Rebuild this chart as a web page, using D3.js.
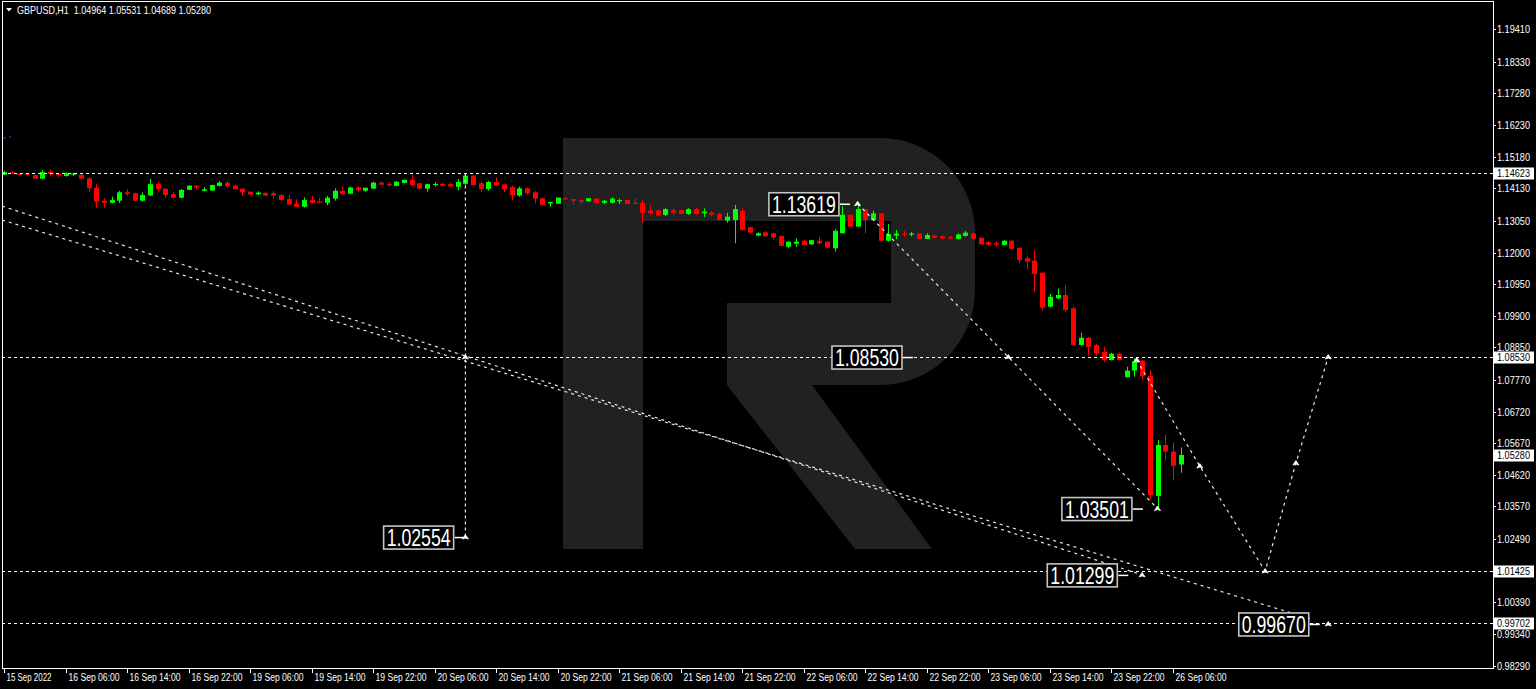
<!DOCTYPE html>
<html><head><meta charset="utf-8">
<script src="https://cdn.jsdelivr.net/npm/d3@7/dist/d3.min.js"></script>
<style>html,body{margin:0;padding:0;background:#000;overflow:hidden}svg{display:block}</style>
</head><body><svg id="c" width="1536" height="689"></svg>
<script>
// ---------- DATA ----------
const symbolTitle = "GBPUSD,H1  1.04964 1.05531 1.04689 1.05280";
const timeTickLabels = ["15 Sep 2022","16 Sep 06:00","16 Sep 14:00","16 Sep 22:00","19 Sep 06:00","19 Sep 14:00","19 Sep 22:00","20 Sep 06:00","20 Sep 14:00","20 Sep 22:00","21 Sep 06:00","21 Sep 14:00","21 Sep 22:00","22 Sep 06:00","22 Sep 14:00","22 Sep 22:00","23 Sep 06:00","23 Sep 14:00","23 Sep 22:00","26 Sep 06:00"];
const timeTickBars = [0,8,16,24,32,40,48,56,64,72,80,88,96,104,112,120,128,136,144,152];
const priceTicks = [1.19410,1.18330,1.17280,1.16230,1.15180,1.14130,1.13050,1.12000,1.10950,1.09900,1.08850,1.07770,1.06720,1.05670,1.04620,1.03570,1.02490,1.00390,0.99340,0.98290];

const open = [1.1458,1.1467,1.1461,1.1461,1.1457,1.1445,1.1468,1.1461,1.1454,1.1460,1.1458,1.1446,1.1415,1.1372,1.1365,1.1372,1.1400,1.1397,1.1372,1.1389,
1.1427,1.1412,1.1394,1.1382,1.1408,1.1422,1.1405,1.1406,1.1421,1.1432,1.1422,1.1412,1.1402,1.1393,1.1398,1.1397,1.1391,1.1377,1.1362,1.1352,
1.1375,1.1369,1.1365,1.1379,1.1405,1.1395,1.1416,1.1405,1.1412,1.1432,1.1427,1.1421,1.1431,1.1441,1.1430,1.1412,1.1425,1.1428,1.1427,1.1418,
1.1428,1.1455,1.1430,1.1411,1.1434,1.1426,1.1417,1.1389,1.1413,1.1400,1.1380,1.1363,1.1362,1.1380,1.1377,1.1374,1.1370,1.1379,1.1365,1.1365,
1.1370,1.1374,1.1365,1.1365,1.1339,1.1339,1.1325,1.1341,1.1341,1.1328,1.1344,1.1330,1.1333,1.1328,1.1306,1.1308,1.1339,1.1284,1.1256,1.1267,
1.1264,1.1255,1.1219,1.1229,1.1239,1.1227,1.1239,1.1236,1.1214,1.1264,1.1325,1.1286,1.1344,1.1308,1.1330,1.1239,1.1256,1.1263,1.1259,1.1263,
1.1245,1.1256,1.1254,1.1252,1.1245,1.1255,1.1264,1.1249,1.1235,1.1232,1.1225,1.1239,1.1216,1.1181,1.1173,1.1133,1.1020,1.1048,1.1059,1.1015,
1.0893,1.0917,1.0893,1.0870,1.0843,1.0864,1.0786,1.0808,1.0841,1.0790,1.0392,1.0561,1.0539,1.04964];
const high = [1.1471,1.1470,1.1463,1.1462,1.1458,1.1474,1.1476,1.1463,1.1466,1.1465,1.1459,1.1450,1.1427,1.1380,1.1385,1.1405,1.1410,1.1398,1.1399,1.1444,
1.1434,1.1412,1.1402,1.1410,1.1423,1.1422,1.1417,1.1425,1.1437,1.1437,1.1425,1.1412,1.1402,1.1403,1.1400,1.1404,1.1394,1.1391,1.1377,1.1383,
1.1388,1.1382,1.1388,1.1413,1.1419,1.1418,1.1421,1.1415,1.1435,1.1437,1.1433,1.1437,1.1442,1.1458,1.1430,1.1427,1.1433,1.1432,1.1432,1.1444,
1.14623,1.1457,1.1435,1.1438,1.1450,1.1426,1.1421,1.1419,1.1416,1.1404,1.1383,1.1368,1.1383,1.1385,1.1377,1.1374,1.1381,1.1380,1.1374,1.1382,
1.1379,1.1375,1.1379,1.1374,1.1358,1.1343,1.1347,1.1347,1.1341,1.1347,1.1348,1.1347,1.1336,1.1332,1.1332,1.1358,1.1347,1.1285,1.1267,1.1271,
1.1266,1.1257,1.1236,1.1247,1.1242,1.1242,1.1252,1.1237,1.1277,1.1354,1.1326,1.13619,1.1345,1.1340,1.1331,1.1294,1.1275,1.1272,1.1268,1.1264,
1.1264,1.1257,1.1256,1.1256,1.1264,1.1272,1.1266,1.1250,1.1237,1.1237,1.1241,1.1241,1.1216,1.1189,1.1208,1.1134,1.1062,1.1081,1.1092,1.1020,
1.0934,1.0920,1.0898,1.0887,1.0867,1.0868,1.0821,1.0849,1.0843,1.0808,1.0578,1.0596,1.0569,1.05531];
const low = [1.1457,1.1460,1.1458,1.1456,1.1444,1.1444,1.1452,1.1450,1.1452,1.1454,1.1443,1.1402,1.1347,1.1349,1.1363,1.1365,1.1388,1.1371,1.1369,1.1388,
1.1402,1.1382,1.1380,1.1380,1.1407,1.1410,1.1402,1.1405,1.1419,1.1415,1.1409,1.1388,1.1391,1.1390,1.1388,1.1378,1.1372,1.1358,1.1351,1.1349,
1.1363,1.1364,1.1357,1.1372,1.1392,1.1394,1.1402,1.1401,1.1411,1.1424,1.1417,1.1420,1.1430,1.1420,1.1410,1.1402,1.1419,1.1419,1.1417,1.1407,
1.1424,1.1423,1.1402,1.1405,1.1421,1.1400,1.1374,1.1385,1.1391,1.1363,1.1354,1.1352,1.1361,1.1375,1.1358,1.1359,1.1369,1.1364,1.1360,1.1363,
1.1361,1.1360,1.1362,1.1299,1.1325,1.1321,1.1321,1.1325,1.1325,1.1325,1.1325,1.1318,1.1320,1.1306,1.1299,1.1231,1.1272,1.1265,1.1254,1.1252,
1.1242,1.1221,1.1214,1.1219,1.1223,1.1226,1.1228,1.1214,1.1203,1.1263,1.1284,1.1285,1.1264,1.1306,1.1238,1.1236,1.1244,1.1253,1.1253,1.1244,
1.1244,1.1247,1.1245,1.1243,1.1244,1.1253,1.1242,1.1226,1.1222,1.1220,1.1224,1.1211,1.1164,1.1144,1.1070,1.1008,1.1018,1.1045,1.1003,1.0891,
1.0891,1.0857,1.0857,1.0836,1.0842,1.0842,1.0785,1.0788,1.0775,1.0381,1.03501,1.0509,1.0443,1.04689];
const close = [1.1467,1.1463,1.1459,1.1458,1.1445,1.1467,1.1461,1.1456,1.1463,1.1462,1.1445,1.1413,1.1369,1.1365,1.1374,1.1400,1.1394,1.1372,1.1391,1.1427,
1.1411,1.1391,1.1382,1.1408,1.1422,1.1416,1.1410,1.1424,1.1432,1.1419,1.1411,1.1400,1.1393,1.1399,1.1389,1.1389,1.1374,1.1359,1.1352,1.1374,
1.1365,1.1365,1.1382,1.1405,1.1394,1.1416,1.1407,1.1415,1.1432,1.1425,1.1423,1.1435,1.1441,1.1424,1.1412,1.1427,1.1428,1.1422,1.1420,1.1434,
1.1455,1.1424,1.1411,1.1434,1.1422,1.1410,1.1390,1.1413,1.1397,1.1379,1.1358,1.1368,1.1382,1.1376,1.1372,1.1369,1.1380,1.1365,1.1372,1.1379,
1.1374,1.1361,1.1362,1.1332,1.1330,1.1323,1.1344,1.1332,1.1328,1.1344,1.1328,1.1336,1.1325,1.1308,1.1319,1.1344,1.1275,1.1266,1.1264,1.1254,
1.1250,1.1222,1.1236,1.1236,1.1225,1.1241,1.1230,1.1216,1.1272,1.1325,1.1286,1.1344,1.1308,1.1330,1.1239,1.1261,1.1263,1.1259,1.1263,1.1245,
1.1258,1.1249,1.1247,1.1247,1.1260,1.1266,1.1245,1.1227,1.1226,1.1226,1.1239,1.1212,1.1175,1.1170,1.1129,1.1017,1.1053,1.1059,1.1009,1.0893,
1.0917,1.0887,1.0865,1.0843,1.0864,1.0843,1.0808,1.0839,1.0790,1.0395,1.0561,1.0539,1.0492,1.05280];

const levelPrices = [1.14623, 1.08530, 1.01425, 0.99702];
const lastPrice = 1.05280;
// drawn objects: [barIndex, price]
const trendLine1 = [[-0.26, 1.1354], [148, 1.01299]];
const trendLine2 = [[-0.26, 1.1308], [169.8, 0.9985]];
const verticalLine = [[60, 1.14623], [60, 1.02554]];
const forecast1 = [[111, 1.13619], [130.6, 1.08530], [150, 1.03501]];
const forecast2 = [[147.3, 1.0843], [155.5, 1.0491], [164, 1.01425], [168, 1.0501], [172.2, 1.08530]];
const markerPoints = [[60,1.08530],[60,1.02554],[111,1.13619],[130.6,1.08530],[150,1.03501],[148,1.01299],[155.5,1.0491],[164,1.01425],[168,1.0501],[172.2,1.08530],[172.2,0.99670],[147.3,1.0843]];
const labelTexts = ["1.13619","1.08530","1.02554","1.03501","1.01299","0.99670"];
const labelBars = [108.7, 116.9, 58.6, 146.8, 144.9, 169.8];
const labelPrices = [1.13619, 1.08530, 1.02554, 1.03501, 1.01299, 0.99670];

// ---------- CHART ----------
const svg = d3.select("#c");
const W = 1536, H = 689;
const plotL = 2, plotR = 1493, plotT = 1, plotB = 668;
const x = d3.scaleLinear().domain([0, 152]).range([4, 4 + 152 * 7.69]);
const y = d3.scaleLinear().domain([0.98208, 1.20382]).range([plotB, 0]);

svg.append("rect").attr("width", W).attr("height", H).attr("fill", "#000");
svg.append("defs").append("clipPath").attr("id", "plot")
  .append("rect").attr("x", plotL).attr("y", plotT).attr("width", plotR - plotL).attr("height", plotB - plotT);

const g = svg.append("g").attr("clip-path", "url(#plot)");

// watermark
g.append("path").attr("fill", "#212121").attr("fill-rule", "evenodd")
  .attr("d", "M563,138 H880 A95,95 0 0 1 975,233 V290 A95,95 0 0 1 880,385 H812 L932,549 H855 L727,385 V303 H891 V221 H643 V549 H563 Z");

// small blue marks
g.append("rect").attr("x", 3).attr("y", 137).attr("width", 3).attr("height", 1.5).attr("fill", "#1c1ca8");
g.append("rect").attr("x", 9).attr("y", 136).attr("width", 2).attr("height", 1.5).attr("fill", "#1c1ca8");

// candles
const idx = d3.range(open.length);
const cg = g.append("g");
cg.selectAll("line.w").data(idx).join("line")
  .attr("x1", i => Math.round(x(i)) + 0.5).attr("x2", i => Math.round(x(i)) + 0.5)
  .attr("y1", i => y(high[i])).attr("y2", i => y(low[i]))
  .attr("stroke", i => close[i] >= open[i] ? "#00ff00" : "#ff0000").attr("stroke-width", 1);
cg.selectAll("rect.b").data(idx).join("rect")
  .attr("x", i => Math.round(x(i)) - 2).attr("width", 5)
  .attr("y", i => y(Math.max(open[i], close[i])))
  .attr("height", i => Math.max(1.2, Math.abs(y(open[i]) - y(close[i]))))
  .attr("fill", i => close[i] >= open[i] ? "#00ff00" : "#ff0000");

// horizontal levels
g.selectAll("line.lvl").data(levelPrices).join("line")
  .attr("x1", plotL).attr("x2", plotR).attr("y1", d => Math.round(y(d)) + 0.5).attr("y2", d => Math.round(y(d)) + 0.5)
  .attr("stroke", "#ffffff").attr("stroke-dasharray", "3,3").attr("stroke-width", 1);

const line = d3.line().x(d => x(d[0])).y(d => y(d[1]));
[trendLine1, trendLine2].forEach(t => g.append("path").attr("d", line(t)).attr("fill", "none")
  .attr("stroke", "#e8e8e8").attr("stroke-width", 1.2).attr("stroke-dasharray", "3,4"));
g.append("path").attr("d", line(verticalLine)).attr("fill", "none")
  .attr("stroke", "#e8e8e8").attr("stroke-width", 1.2).attr("stroke-dasharray", "3,3");
[forecast1, forecast2].forEach(t => g.append("path").attr("d", line(t)).attr("fill", "none")
  .attr("stroke", "#e8e8e8").attr("stroke-width", 1.2).attr("stroke-dasharray", "3,4"));

// markers
g.selectAll("path.mk").data(markerPoints).join("path")
  .attr("transform", d => `translate(${x(d[0])},${y(d[1])})`)
  .attr("d", "M-3,2 L0,-2.5 L3,2 L0,1 Z").attr("fill", "#ffffff").attr("stroke", "#ffffff").attr("stroke-width", 0.8);

// labels
const lab = g.selectAll("g.lab").data(labelTexts).join("g")
  .attr("transform", (d, i) => `translate(${x(labelBars[i])},${y(labelPrices[i])})`);
lab.append("line").attr("x1", 0).attr("x2", 10).attr("y1", 0.5).attr("y2", 0.5).attr("stroke", "#ffffff").attr("stroke-width", 1.5);
lab.append("rect").attr("x", -71).attr("y", -11).attr("width", 70).attr("height", 23)
  .attr("fill", "#000").attr("stroke", "#c4c4c4").attr("stroke-width", 1.6);
lab.append("text").attr("x", -68).attr("y", 9).text(d => d)
  .attr("font-family", "'Liberation Sans Narrow','Liberation Sans',Arial,sans-serif").attr("font-size", 24)
  .attr("textLength", 64).attr("lengthAdjust", "spacingAndGlyphs").attr("fill", "#ffffff");

// frame / axes
svg.append("line").attr("x1", plotL + 0.5).attr("x2", plotL + 0.5).attr("y1", plotT).attr("y2", plotB).attr("stroke", "#fff");
svg.append("line").attr("x1", plotL).attr("x2", plotR).attr("y1", plotT + 0.5).attr("y2", plotT + 0.5).attr("stroke", "#fff");
svg.append("line").attr("x1", plotR + 0.5).attr("x2", plotR + 0.5).attr("y1", plotT).attr("y2", plotB + 1).attr("stroke", "#fff");
svg.append("line").attr("x1", plotL).attr("x2", plotR + 1).attr("y1", plotB + 0.5).attr("y2", plotB + 0.5).attr("stroke", "#fff");

const axFont = "'Liberation Sans',Arial,sans-serif";
const pt = svg.append("g").selectAll("g").data(priceTicks).join("g")
  .attr("transform", d => `translate(${plotR},${Math.round(y(d)) + 0.5})`);
pt.append("line").attr("x1", 0).attr("x2", 3).attr("stroke", "#fff");
pt.append("text").attr("x", 4).attr("y", 3.5).text(d => d.toFixed(5))
  .attr("font-family", axFont).attr("font-size", 10).attr("textLength", 33).attr("lengthAdjust", "spacingAndGlyphs").attr("fill", "#fff");

const boxes = levelPrices.concat([lastPrice]);
const bx = svg.append("g").selectAll("g").data(boxes).join("g")
  .attr("transform", d => `translate(${plotR},${Math.round(y(d)) + 0.5})`);
bx.append("rect").attr("x", 1).attr("y", -6).attr("width", 40).attr("height", 12).attr("fill", "#fff");
bx.append("text").attr("x", 4).attr("y", 3.5).text(d => d.toFixed(5))
  .attr("font-family", axFont).attr("font-size", 10).attr("textLength", 33).attr("lengthAdjust", "spacingAndGlyphs").attr("fill", "#000");

const tt = svg.append("g").selectAll("g").data(timeTickBars).join("g")
  .attr("transform", d => `translate(${Math.round(x(d)) + 0.5},${plotB})`);
tt.append("line").attr("y1", 0).attr("y2", 5).attr("stroke", "#fff");
tt.append("text").attr("x", 2).attr("y", 13).text((d, i) => timeTickLabels[i])
  .attr("font-family", axFont).attr("font-size", 10)
  .attr("textLength", (d, i) => i === 0 ? 45 : 51).attr("lengthAdjust", "spacingAndGlyphs").attr("fill", "#fff");

// title
svg.append("path").attr("d", "M6,8 L12,8 L9,11.5 Z").attr("fill", "#fff");
svg.append("text").attr("x", 17).attr("y", 13.5).text(symbolTitle).attr("xml:space", "preserve")
  .style("white-space", "pre")
  .attr("font-family", axFont).attr("font-size", 10.5).attr("textLength", 194).attr("lengthAdjust", "spacingAndGlyphs").attr("fill", "#fff");
</script></body></html>
